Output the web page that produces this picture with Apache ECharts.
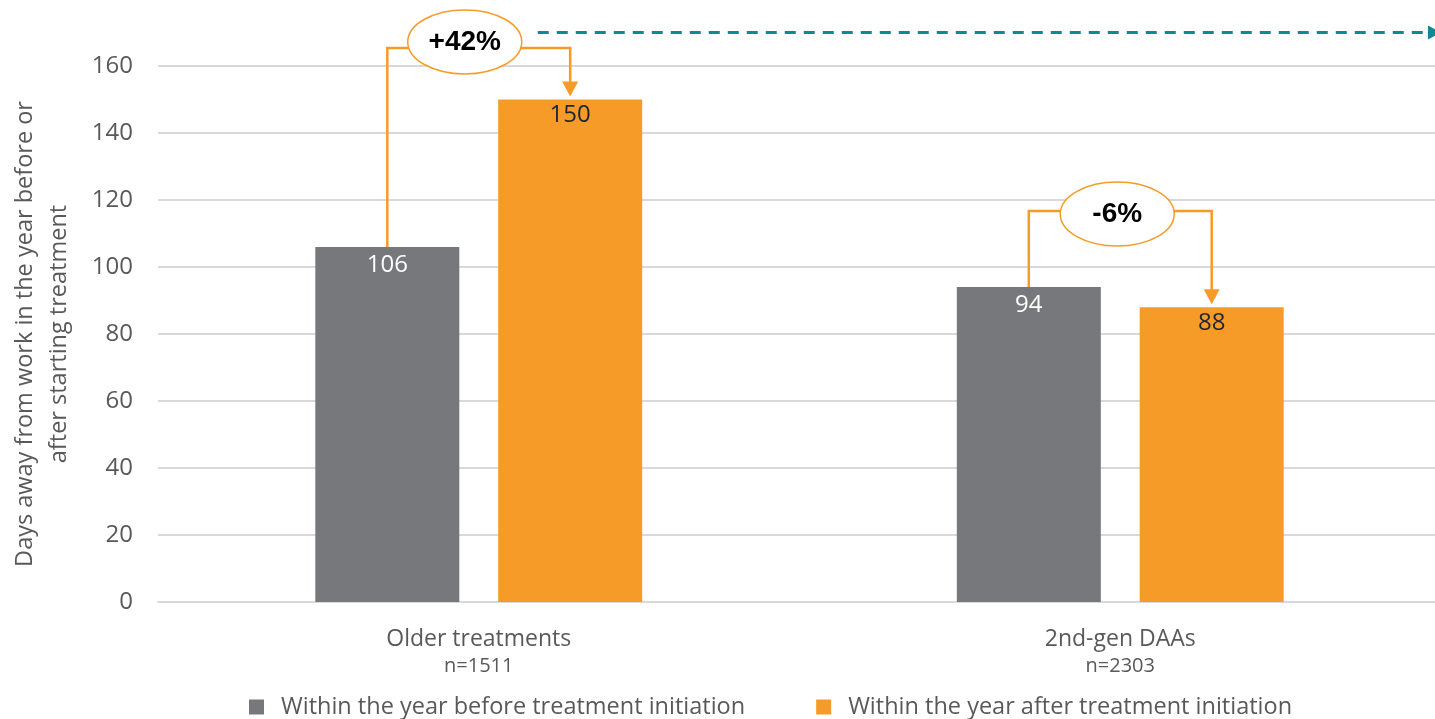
<!DOCTYPE html>
<html>
<head>
<meta charset="utf-8">
<script src="https://cdn.jsdelivr.net/npm/echarts@6/dist/echarts.min.js"></script>
<style>
html,body{margin:0;padding:0;background:#fff;}
#chart{width:1435px;height:719px;}
</style>
</head>
<body>
<div id="chart"></div>
<script>
// ---- data ----
const categories = ['Older treatments', '2nd-gen DAAs'];
const sampleSizes = ['n=1511', 'n=2303'];
const seriesNames = ['Within the year before treatment initiation', 'Within the year after treatment initiation'];
const beforeValues = [106, 94];
const afterValues = [150, 88];
const changeLabels = ['+42%', '-6%'];
const yMin = 0, yMax = 160, yInterval = 20;

// ---- annotation styling (value-space levels) ----
const bracketLevel = [165.4, 116.7];
const ellipseLevel = [167.2, 115.8];
const ellipseDx = [-14, -3];
const trendLevel = 170;

const GRAY = '#77787B', ORANGE = '#F79B28', TEAL = '#0E8A96', TXT = '#595959';
const FONT = '"Open Sans", "Noto Sans", sans-serif';

const chart = echarts.init(document.getElementById('chart'), null, {renderer: 'canvas'});
const option = {
  animation: false,
  backgroundColor: '#fff',
  grid: {left: 158, top: 66, width: 1283, bottom: 117, containLabel: false, outerBoundsMode: 'none'},
  legend: {
    left: 244, top: 690, itemWidth: 15, itemHeight: 15, itemGap: 71, icon: 'rect',
    textStyle: {fontFamily: FONT, fontSize: 23.5, color: TXT, padding: [0, 0, 0, 12]},
    data: seriesNames
  },
  xAxis: {
    type: 'category', data: categories,
    axisLine: {show: true, lineStyle: {color: '#D9D9D9', width: 2}},
    axisTick: {show: false},
    axisLabel: {
      margin: 23, interval: 0,
      formatter: (v, i) => `{a|${v}}\n{b|${sampleSizes[i]}}`,
      rich: {
        a: {fontFamily: FONT, fontSize: 23, color: TXT, lineHeight: 28},
        b: {fontFamily: FONT, fontSize: 20, color: TXT, lineHeight: 26}
      }
    }
  },
  yAxis: {
    type: 'value', min: yMin, max: yMax, interval: yInterval,
    name: 'Days away from work in the year before or\nafter starting treatment',
    nameLocation: 'middle', nameGap: 82, nameRotate: 90,
    nameTextStyle: {fontFamily: FONT, fontSize: 23.5, color: TXT, lineHeight: 34},
    axisLine: {show: false}, axisTick: {show: false},
    axisLabel: {fontFamily: FONT, fontSize: 24, color: TXT, margin: 25},
    splitLine: {lineStyle: {color: '#D9D9D9', width: 2}}
  },
  series: [
    {
      name: seriesNames[0], type: 'bar', data: beforeValues, barWidth: 144, barGap: '27%',
      itemStyle: {color: GRAY},
      label: {show: true, position: 'insideTop', distance: 6, fontFamily: FONT, fontSize: 24, color: '#fff'}
    },
    {
      name: seriesNames[1], type: 'bar', data: afterValues, barWidth: 144, barGap: '27%',
      itemStyle: {color: ORANGE},
      label: {show: true, position: 'insideTop', distance: 4, fontFamily: FONT, fontSize: 24, color: '#1E2633'}
    }
  ]
};
chart.setOption(option);

function barGeom(seriesIndex, i) {
  const lay = chart.getModel().getSeriesByIndex(seriesIndex).getData().getItemLayout(i);
  const top = Math.min(lay.y, lay.y + lay.height);
  return {cx: lay.x + lay.width / 2, top: top};
}
function yPix(v) { return chart.convertToPixel({yAxisIndex: 0}, v); }

const g = [];
let firstEllipseRight = 0;
categories.forEach((c, i) => {
  const a = barGeom(0, i), b = barGeom(1, i);
  const ly = yPix(bracketLevel[i]);
  const ey = yPix(ellipseLevel[i]);
  const ex = (a.cx + b.cx) / 2 + ellipseDx[i];
  const rx = 57, ry = 32;
  const tipY = b.top - 3;
  g.push({type: 'polyline', z: 10, shape: {points: [[a.cx, a.top], [a.cx, ly], [ex, ly]]},
          style: {stroke: ORANGE, lineWidth: 2.5, fill: null}});
  g.push({type: 'polyline', z: 10, shape: {points: [[ex, ly], [b.cx, ly], [b.cx, tipY - 14]]},
          style: {stroke: ORANGE, lineWidth: 2.5, fill: null}});
  g.push({type: 'polygon', z: 10, shape: {points: [[b.cx - 8, tipY - 15], [b.cx + 8, tipY - 15], [b.cx, tipY]]},
          style: {fill: ORANGE}});
  g.push({type: 'ellipse', z: 11, shape: {cx: ex, cy: ey, rx: rx, ry: ry},
          style: {fill: '#fff', stroke: ORANGE, lineWidth: 1.5}});
  g.push({type: 'text', z: 12, x: ex, y: ey,
          style: {text: changeLabels[i], fontFamily: '"Liberation Sans", Arial, sans-serif', fontSize: 28,
                  fontWeight: 'bold', fill: '#000', align: 'center', verticalAlign: 'middle'}});
  if (i === 0) firstEllipseRight = ex + rx;
});
const ty = yPix(trendLevel);
const W = chart.getWidth();
g.push({type: 'line', z: 10, shape: {x1: firstEllipseRight + 16, y1: ty, x2: W - 6, y2: ty},
        style: {stroke: TEAL, lineWidth: 3, lineDash: [11, 8]}});
g.push({type: 'polygon', z: 10, shape: {points: [[W - 7, ty - 7], [W + 6, ty], [W - 7, ty + 7]]},
        style: {fill: TEAL}});
chart.setOption({graphic: {elements: g}});
</script>
</body>
</html>
